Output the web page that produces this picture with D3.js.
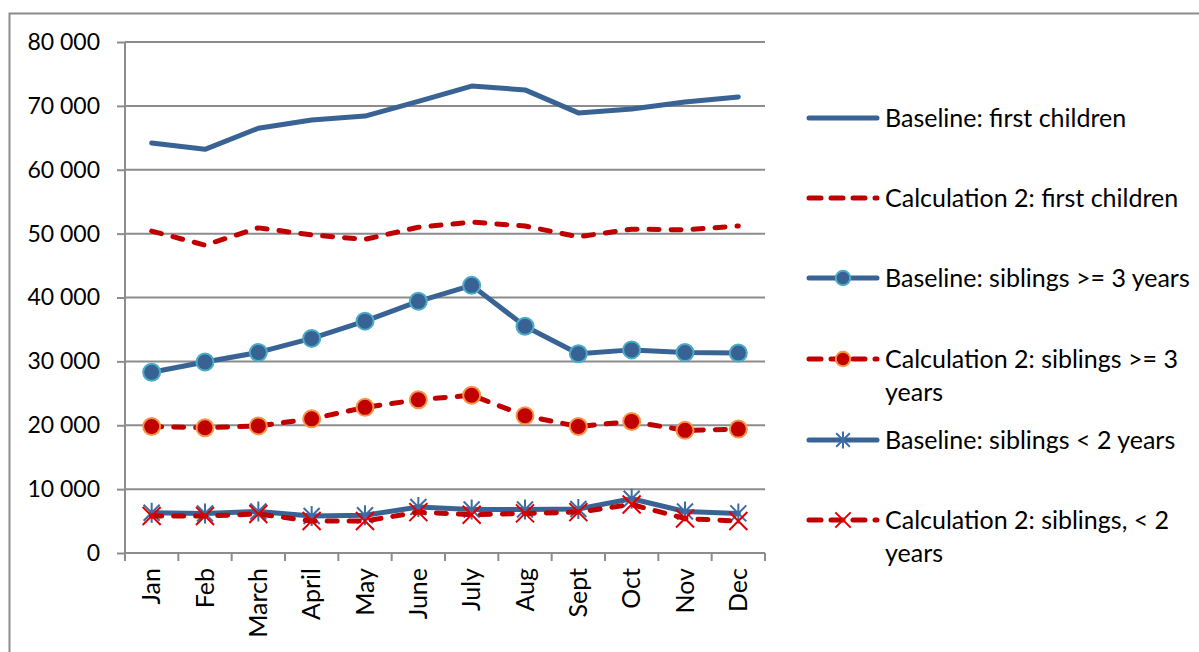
<!DOCTYPE html>
<html><head><meta charset="utf-8">
<script src="https://cdn.jsdelivr.net/npm/d3@7"></script>
<style>body{margin:0;background:#fff;} svg{display:block;font-family:Lato, "Open Sans", sans-serif;}</style>
</head><body>
<svg id="c" width="1199" height="652"></svg>
<script>
const months = ["Jan","Feb","March","April","May","June","July","Aug","Sept","Oct","Nov","Dec"];
const yTicks = [0,10000,20000,30000,40000,50000,60000,70000,80000];
const baseFirst = [64200,63200,66500,67800,68400,70700,73100,72500,68900,69500,70600,71400];
const calcFirst = [50400,48200,50900,49800,49100,51000,51800,51200,49500,50700,50600,51200];
const baseSib3 = [28300,29900,31400,33600,36300,39400,41900,35500,31200,31800,31400,31300];
const calcSib3 = [19800,19600,19900,21000,22800,24000,24700,21500,19800,20600,19200,19400];
const baseSib2 = [6300,6200,6500,5800,5900,7200,6800,6800,6900,8500,6500,6200];
const calcSib2 = [5800,5800,6100,5000,5000,6400,6000,6200,6400,7600,5400,5000];
const seriesNames = ["Baseline: first children","Calculation 2: first children","Baseline: siblings >= 3 years","Calculation 2: siblings >= 3 years","Baseline: siblings < 2 years","Calculation 2: siblings, < 2 years"];

const BLUE="#396395", RED="#C00000";
const FS = 25;
const series = [
 {name:seriesNames[0], values:baseFirst, color:BLUE, dash:null, marker:null, legend:["Baseline: first children"]},
 {name:seriesNames[1], values:calcFirst, color:RED, dash:"10,12", marker:null, legend:["Calculation 2: first children"]},
 {name:seriesNames[2], values:baseSib3, color:BLUE, dash:null, marker:"circleB", legend:["Baseline: siblings >= 3 years"]},
 {name:seriesNames[3], values:calcSib3, color:RED, dash:"10,12", marker:"circleR", legend:["Calculation 2: siblings >= 3","years"]},
 {name:seriesNames[4], values:baseSib2, color:BLUE, dash:null, marker:"star", legend:["Baseline: siblings < 2 years"]},
 {name:seriesNames[5], values:calcSib2, color:RED, dash:"10,12", marker:"x", legend:["Calculation 2: siblings, < 2","years"]}
];

const svg = d3.select("#c");
// outer border
svg.append("rect").attr("x",9.5).attr("y",13.5).attr("width",1300).attr("height",800)
  .attr("fill","none").attr("stroke","#8c8c8c").attr("stroke-width",2);

const L=125, R=765, T=42, B=553;
const x = d3.scaleBand().domain(months).range([L,R]);
const y = d3.scaleLinear().domain([0,80000]).range([B,T]);
const fmt = v => d3.format(",")(v).replace(/,/g," ");

// gridlines
svg.append("g").selectAll("line").data(yTicks.filter(d=>d>0)).join("line")
  .attr("x1",L).attr("x2",R).attr("y1",d=>y(d)).attr("y2",d=>y(d))
  .attr("stroke","#8c8c8c").attr("stroke-width",2);

// y axis
const ya = svg.append("g").attr("transform",`translate(${L},0)`)
  .call(d3.axisLeft(y).tickValues(yTicks).tickFormat(fmt).tickSize(8).tickPadding(17));
ya.select(".domain").attr("stroke","#8c8c8c").attr("stroke-width",2).attr("d",`M0,${B}V${T}`);
ya.selectAll(".tick line").attr("stroke","#8c8c8c").attr("stroke-width",2);
ya.selectAll("text").attr("font-size",23).attr("fill","#000").attr("font-family","Lato");

// x axis
const xa = svg.append("g").attr("transform",`translate(0,${B})`)
  .call(d3.axisBottom(x).tickSize(0).tickPadding(0));
xa.select(".domain").attr("stroke","#8c8c8c").attr("stroke-width",2).attr("d",`M${L},0H${R}`);
xa.selectAll(".tick text").attr("font-size",FS).attr("fill","#000").attr("font-family","Lato")
  .attr("transform","translate(0,15) rotate(-90)").attr("text-anchor","end").attr("dy","0.35em").attr("x",0).attr("y",0);
// category boundary ticks
const bounds = months.map(m=>x(m)).concat([R]);
svg.append("g").selectAll("line").data(bounds).join("line")
  .attr("x1",d=>d).attr("x2",d=>d).attr("y1",B).attr("y2",B+8)
  .attr("stroke","#8c8c8c").attr("stroke-width",2);

const cx = m => x(m)+x.bandwidth()/2;
const line = d3.line().x((d,i)=>cx(months[i])).y(d=>y(d));

function drawMarker(g, type, px, py, scale){
  const s = scale||1;
  if(type==="circleB"){
    g.append("circle").attr("cx",px).attr("cy",py).attr("r",8.5*s).attr("fill","#386194").attr("stroke","#4BACC6").attr("stroke-width",2);
  } else if(type==="circleR"){
    g.append("circle").attr("cx",px).attr("cy",py).attr("r",8.5*s).attr("fill","#C00000").attr("stroke","#F79646").attr("stroke-width",2);
  } else if(type==="star"){
    const r=8*s;
    const p=`M${px-r},${py-r}L${px+r},${py+r}M${px-r},${py+r}L${px+r},${py-r}M${px},${py-r*1.25}L${px},${py+r*1.25}`;
    g.append("path").attr("d",p).attr("stroke","#3E6DA6").attr("stroke-width",2).attr("fill","none");
  } else if(type==="x"){
    const r=9*s;
    const p=`M${px-r},${py-r}L${px+r},${py+r}M${px-r},${py+r}L${px+r},${py-r}`;
    g.append("path").attr("d",p).attr("stroke","#E00000").attr("stroke-width",2).attr("fill","none");
  }
}

const plot = svg.append("g");
series.forEach(s=>{
  const g = plot.append("g");
  g.append("path").datum(s.values).attr("d",line).attr("fill","none")
   .attr("stroke",s.color).attr("stroke-width",5).attr("stroke-linejoin","round")
   .attr("stroke-linecap","round").attr("stroke-dasharray",s.dash);
  if(s.marker){
    s.values.forEach((v,i)=>drawMarker(g,s.marker,cx(months[i]),y(v)));
  }
});

// legend
const legY = [118,198,278,359,440,520];
const lg = svg.append("g");
series.forEach((s,i)=>{
  const yy = legY[i];
  const g = lg.append("g");
  g.append("path").attr("d",`M${809},${yy}H${877}`).attr("stroke",s.color).attr("stroke-width",5)
    .attr("stroke-linecap","round").attr("stroke-dasharray",s.dash?"12,10":null);
  if(s.marker) drawMarker(g,s.marker,843,yy,0.85);
  s.legend.forEach((t,j)=>{
    g.append("text").attr("x",885).attr("y",yy+j*33).attr("dy","0.35em")
     .attr("font-size",FS).attr("font-family","Lato").attr("fill","#000").text(t);
  });
});
</script>
</body></html>
